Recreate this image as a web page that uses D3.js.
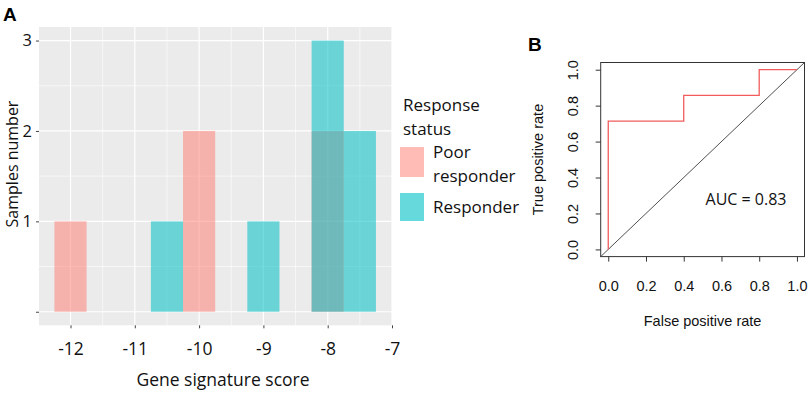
<!DOCTYPE html>
<html lang="en">
<head>
    <meta charset="UTF-8">
    <title>Gene signature score / ROC</title>
    <script src="https://d3js.org/d3.v7.min.js"></script>
    <style>
        body { margin: 0; background: #fff; }
        .histText { font-family: "Open Sans", sans-serif; fill: #111; }
        .rocText { font-family: "Liberation Sans", Arial, sans-serif; fill: #111; }
    </style>
</head>
<body>
    <script>
        const w = 809;
        const h = 393;

        // Histogram data (bin centres, binwidth 0.5)
        const poorScores = [-12, -10, -8];
        const poorCounts = [1, 2, 2];
        const respScores = [-10.5, -9, -8, -7.5];
        const respCounts = [1, 1, 3, 2];
        const binWidth = 0.5;
        const xTicks = [-12, -11, -10, -9, -8, -7];
        const yTicks = [0, 1, 2, 3];
        const yTickLabels = ["", "1", "2", "3"];
        const legendLabels = [["Poor", "responder"], ["Responder"]];

        // ROC data
        const fpr = [0, 0, 0.4, 0.4, 0.8, 0.8, 1];
        const tpr = [0, 0.714, 0.714, 0.857, 0.857, 1, 1];
        const rocTicks = [0, 0.2, 0.4, 0.6, 0.8, 1.0];
        const aucLabel = "AUC = 0.83";

        const svg = d3.select("body").append("svg")
            .attr("width", w)
            .attr("height", h);

        // ---------- Panel A ----------
        const ax = d3.scaleLinear().domain([-12.49, -7]).range([39, 392]);
        const ay = d3.scaleLinear().domain([-0.15, 3.15]).range([325.3, 27]);

        svg.append("rect")
            .attr("x", ax.range()[0]).attr("y", ay.range()[1])
            .attr("width", ax.range()[1] - ax.range()[0])
            .attr("height", ay.range()[0] - ay.range()[1])
            .attr("fill", "#ebebeb");

        const grid = svg.append("g");
        // minor grid
        const xMinor = [-12.5].concat(xTicks.map(d => d + 0.5).filter(d => d < -7));
        grid.selectAll(".xminor").data(xMinor.filter(d => ax(d) >= 39))
            .enter().append("line")
            .attr("x1", d => ax(d)).attr("x2", d => ax(d))
            .attr("y1", ay.range()[1]).attr("y2", ay.range()[0])
            .attr("stroke", "#fff").attr("stroke-width", 0.6);
        grid.selectAll(".yminor").data([0.5, 1.5, 2.5])
            .enter().append("line")
            .attr("y1", d => ay(d)).attr("y2", d => ay(d))
            .attr("x1", ax.range()[0]).attr("x2", ax.range()[1])
            .attr("stroke", "#fff").attr("stroke-width", 0.6);
        // major grid
        grid.selectAll(".xmajor").data(xTicks)
            .enter().append("line")
            .attr("x1", d => ax(d)).attr("x2", d => ax(d))
            .attr("y1", ay.range()[1]).attr("y2", ay.range()[0])
            .attr("stroke", "#fff").attr("stroke-width", 1.2);
        grid.selectAll(".ymajor").data(yTicks)
            .enter().append("line")
            .attr("y1", d => ay(d)).attr("y2", d => ay(d))
            .attr("x1", ax.range()[0]).attr("x2", ax.range()[1])
            .attr("stroke", "#fff").attr("stroke-width", 1.2);

        // bars: poor responder first, responder on top, both semi-transparent
        svg.selectAll(".poor").data(poorScores)
            .enter().append("rect")
            .attr("x", d => ax(d - binWidth / 2))
            .attr("width", d => ax(d + binWidth / 2) - ax(d - binWidth / 2))
            .attr("y", (d, i) => ay(poorCounts[i]))
            .attr("height", (d, i) => ay(0) - ay(poorCounts[i]))
            .attr("fill", "#FF7A70").attr("fill-opacity", 0.5);
        svg.selectAll(".resp").data(respScores)
            .enter().append("rect")
            .attr("x", d => ax(d - binWidth / 2))
            .attr("width", d => ax(d + binWidth / 2) - ax(d - binWidth / 2))
            .attr("y", (d, i) => ay(respCounts[i]))
            .attr("height", (d, i) => ay(0) - ay(respCounts[i]))
            .attr("fill", "#00BFC4").attr("fill-opacity", 0.55);

        // axes
        const xAxisA = d3.axisBottom(ax).tickValues(xTicks).tickSize(3).tickPadding(14)
            .tickFormat(d => d);
        const gxA = svg.append("g").attr("transform", `translate(0, ${ay.range()[0]})`).call(xAxisA);
        gxA.select(".domain").remove();
        gxA.selectAll("line").attr("stroke", "#444");
        gxA.selectAll("text").style("font-size", "17.5px")
            .style("font-family", "Open Sans, sans-serif").attr("fill", "#111");

        const yAxisA = d3.axisLeft(ay).tickValues(yTicks).tickSize(3).tickPadding(4)
            .tickFormat((d, i) => yTickLabels[i]);
        const gyA = svg.append("g").attr("transform", `translate(${ax.range()[0]}, 0)`).call(yAxisA);
        gyA.select(".domain").remove();
        gyA.selectAll("line").attr("stroke", "#444");
        gyA.selectAll("text").style("font-size", "16.5px")
            .style("font-family", "Open Sans, sans-serif").attr("fill", "#111");

        svg.append("text").attr("class", "histText")
            .attr("x", 223).attr("y", 386)
            .attr("text-anchor", "middle").style("font-size", "17.5px")
            .text("Gene signature score");

        svg.append("text").attr("class", "histText")
            .attr("transform", "translate(17.5, 164) rotate(-90)")
            .attr("text-anchor", "middle").style("font-size", "16px")
            .text("Samples number");

        // legend
        const legend = svg.append("g");
        legend.append("text").attr("class", "histText")
            .attr("x", 403).attr("y", 111).style("font-size", "17px").text("Response");
        legend.append("text").attr("class", "histText")
            .attr("x", 403).attr("y", 135).style("font-size", "17px").text("status");
        const keyColors = ["#FF7A70", "#00BFC4"];
        const keyY = [147, 193];
        legend.selectAll(".key").data(keyColors)
            .enter().append("rect")
            .attr("x", 400).attr("y", (d, i) => keyY[i])
            .attr("width", 24).attr("height", (d, i) => i === 0 ? 30 : 28)
            .attr("fill", d => d).attr("fill-opacity", (d, i) => i === 0 ? 0.5 : 0.6);
        legend.selectAll(".lab").data(legendLabels)
            .enter().append("text").attr("class", "histText")
            .attr("y", (d, i) => i === 0 ? 158 : 213)
            .style("font-size", "17px")
            .each(function(d) {
                d3.select(this).selectAll("tspan").data(d).enter().append("tspan")
                    .attr("x", 433).attr("dy", (t, j) => j === 0 ? 0 : 24)
                    .text(t => t);
            });

        svg.append("text")
            .attr("x", 3).attr("y", 21)
            .style("font-family", "Liberation Sans, Arial, sans-serif")
            .style("font-weight", "bold").style("font-size", "19px")
            .text("A");

        // ---------- Panel B ----------
        const bx = d3.scaleLinear().domain([-0.04, 1.04]).range([600.7, 804.5]);
        const by = d3.scaleLinear().domain([-0.04, 1.04]).range([256.6, 62.5]);

        // diagonal reference line
        svg.append("line")
            .attr("x1", bx(-0.04)).attr("y1", by(-0.04))
            .attr("x2", bx(1.04)).attr("y2", by(1.04))
            .attr("stroke", "#222").attr("stroke-width", 0.8);

        const rocLine = d3.line().x((d, i) => bx(fpr[i])).y((d, i) => by(tpr[i]));
        svg.append("path")
            .datum(fpr)
            .attr("d", rocLine)
            .attr("fill", "none")
            .attr("stroke", "#F25C5C")
            .attr("stroke-width", 1.3);

        svg.append("rect")
            .attr("x", bx.range()[0]).attr("y", by.range()[1])
            .attr("width", bx.range()[1] - bx.range()[0])
            .attr("height", by.range()[0] - by.range()[1])
            .attr("fill", "none").attr("stroke", "#333").attr("stroke-width", 1);

        const fmt = d3.format(".1f");
        const gxB = svg.append("g").attr("transform", `translate(0, ${by.range()[0]})`)
            .call(d3.axisBottom(bx).tickValues(rocTicks).tickSize(5).tickPadding(19).tickFormat(fmt));
        gxB.select(".domain").remove();
        gxB.selectAll("line").attr("stroke", "#333");
        gxB.selectAll("text").style("font-size", "14.5px")
            .style("font-family", "Liberation Sans, Arial, sans-serif").attr("fill", "#111");

        const gyB = svg.append("g").attr("transform", `translate(${bx.range()[0]}, 0)`)
            .call(d3.axisLeft(by).tickValues(rocTicks).tickSize(5).tickFormat(fmt));
        gyB.select(".domain").remove();
        gyB.selectAll("line").attr("stroke", "#333");
        gyB.selectAll("text")
            .attr("x", 0).attr("y", 0).attr("dy", "0.35em")
            .attr("text-anchor", "middle")
            .attr("transform", "translate(-28, 0) rotate(-90)")
            .style("font-size", "14.5px")
            .style("font-family", "Liberation Sans, Arial, sans-serif").attr("fill", "#111");

        svg.append("text").attr("class", "rocText")
            .attr("x", (bx.range()[0] + bx.range()[1]) / 2).attr("y", 326)
            .attr("text-anchor", "middle").style("font-size", "14.5px")
            .text("False positive rate");

        svg.append("text").attr("class", "rocText")
            .attr("transform", `translate(543, ${(by.range()[0] + by.range()[1]) / 2}) rotate(-90)`)
            .attr("text-anchor", "middle").style("font-size", "14.5px")
            .text("True positive rate");

        svg.append("text").attr("class", "histText")
            .attr("x", bx(0.73)).attr("y", by(0.27))
            .attr("text-anchor", "middle").attr("dominant-baseline", "middle")
            .style("font-size", "16px")
            .text(aucLabel);

        svg.append("text")
            .attr("x", 528).attr("y", 51)
            .style("font-family", "Liberation Sans, Arial, sans-serif")
            .style("font-weight", "bold").style("font-size", "19px")
            .text("B");
    </script>
</body>
</html>
